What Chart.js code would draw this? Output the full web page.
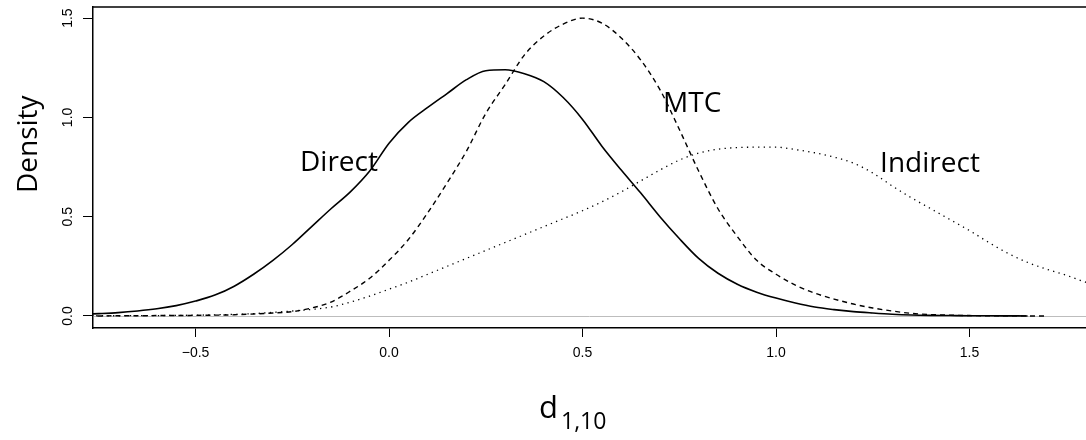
<!DOCTYPE html>
<html>
<head>
<meta charset="utf-8">
<script src="https://cdn.jsdelivr.net/npm/chart.js@4.4.1/dist/chart.umd.min.js"></script>
<style>
html,body{margin:0;padding:0;background:#fff;}
#wrap{width:1086px;height:440px;}
</style>
</head>
<body>
<div id="wrap"><canvas id="chart" width="1086" height="440"></canvas></div>
<script>
// Posterior densities of d_{1,10}: Direct / MTC / Indirect
const xs = [-0.80,-0.75,-0.70,-0.65,-0.60,-0.55,-0.50,-0.45,-0.40,-0.35,-0.30,-0.25,-0.20,-0.15,-0.10,-0.05,
  0.00,0.05,0.10,0.15,0.20,0.25,0.30,0.35,0.40,0.45,0.50,0.55,0.60,0.65,0.70,0.75,0.80,0.85,0.90,0.95,
  1.00,1.05,1.10,1.15,1.20,1.25,1.30,1.35,1.40,1.45,1.50,1.55,1.60,1.65,1.70,1.75,1.80,1.85];

const yDirect = [0.008,0.012,0.017,0.025,0.036,0.052,0.075,0.105,0.15,0.21,0.28,0.36,0.45,0.54,0.625,0.73,
  0.87,0.975,1.05,1.12,1.19,1.235,1.24,1.22,1.18,1.10,0.99,0.855,0.735,0.62,0.50,0.39,0.29,0.215,0.16,0.12,
  0.09,0.065,0.045,0.032,0.022,0.015,0.009,0.005,0.003,0.002,0.001,0.001,0.0005,0.0,null,null,null,null];

const yMTC = [0,0,0.001,0.001,0.002,0.002,0.003,0.004,0.006,0.01,0.015,0.022,0.04,0.07,0.125,0.19,
  0.28,0.385,0.52,0.67,0.83,1.02,1.165,1.315,1.41,1.47,1.50,1.475,1.40,1.29,1.14,0.94,0.73,0.54,0.40,0.28,
  0.21,0.155,0.115,0.085,0.06,0.04,0.025,0.013,0.007,0.004,0.002,0.001,0.0005,0.0002,0.0,null,null,null];

const yIndirect = [0.0,0.001,0.001,0.002,0.002,0.003,0.004,0.006,0.008,0.012,0.018,0.025,0.033,0.045,0.07,0.10,
  0.135,0.17,0.21,0.25,0.29,0.33,0.37,0.41,0.45,0.49,0.53,0.575,0.625,0.68,0.735,0.785,0.82,0.84,0.848,0.85,
  0.85,0.838,0.822,0.80,0.77,0.72,0.655,0.595,0.54,0.485,0.43,0.37,0.315,0.27,0.235,0.205,0.17,0.145];

const xTicks = [-0.5, 0.0, 0.5, 1.0, 1.5];
const yTicks = [0.0, 0.5, 1.0, 1.5];
const xMin = -0.765, xMax = 1.801;
const yMin = -0.0606, yMax = 1.556;

// curve labels, in data coordinates (left edge, baseline)
const labelText = ['Direct', 'MTC', 'Indirect'];
const labelX = [-0.23, 0.708, 1.269];
const labelY = [0.732, 1.025, 0.727];

const toPoints = ys => xs.map((x,i) => ({x: x, y: ys[i]}));
const fmtTick = v => v.toFixed(1).replace('-', '\u2212');

const tickFont = {family: '"Liberation Sans", Arial, Helvetica, sans-serif', size: 14};
const textFont = '"Open Sans", "Noto Sans", sans-serif';

// grey zero line + top border of the box
const framePlugin = {
  id: 'frame',
  beforeDatasetsDraw(chart){
    const {ctx, chartArea, scales} = chart;
    const y0 = Math.round(scales.y.getPixelForValue(0)) + 0.5;
    ctx.save();
    ctx.strokeStyle = '#bdbdbd';
    ctx.lineWidth = 1;
    ctx.beginPath();
    ctx.moveTo(chartArea.left, y0);
    ctx.lineTo(chartArea.right, y0);
    ctx.stroke();
    ctx.strokeStyle = '#000';
    ctx.lineWidth = 1.5;
    ctx.beginPath();
    ctx.moveTo(chartArea.left, chartArea.top);
    ctx.lineTo(chartArea.right, chartArea.top);
    ctx.stroke();
    ctx.restore();
  }
};

// curve labels and axis titles
const textPlugin = {
  id: 'texts',
  afterDraw(chart){
    const {ctx, scales} = chart;
    ctx.save();
    ctx.fillStyle = '#000';
    ctx.textAlign = 'left';
    ctx.textBaseline = 'alphabetic';
    ctx.font = '28px ' + textFont;
    labelText.forEach((t,i) => {
      ctx.fillText(t, scales.x.getPixelForValue(labelX[i]), scales.y.getPixelForValue(labelY[i]));
    });
    // y title
    ctx.save();
    ctx.translate(37, 193);
    ctx.rotate(-Math.PI/2);
    ctx.fillText('Density', 0, 0);
    ctx.restore();
    // x title d_{1,10}
    ctx.font = '31px ' + textFont;
    ctx.fillText('d', 539, 418);
    ctx.font = '23px ' + textFont;
    ctx.fillText('1,10', 561, 429);
    ctx.restore();
  }
};

const ctx = document.getElementById('chart').getContext('2d');
new Chart(ctx, {
  type: 'line',
  data: {
    datasets: [
      {label: 'Direct', data: toPoints(yDirect), borderColor: '#000', borderWidth: 1.6,
       pointRadius: 0, fill: false, cubicInterpolationMode: 'monotone'},
      {label: 'MTC', data: toPoints(yMTC), borderColor: '#000', borderWidth: 1.4, borderDash: [5,4],
       pointRadius: 0, fill: false, cubicInterpolationMode: 'monotone'},
      {label: 'Indirect', data: toPoints(yIndirect), borderColor: '#000', borderWidth: 1.3, borderDash: [1.3,4.3],
       pointRadius: 0, fill: false, cubicInterpolationMode: 'monotone'}
    ]
  },
  options: {
    responsive: false,
    animation: false,
    layout: {padding: {top: 7, left: 0, right: 0, bottom: 0}},
    plugins: {legend: {display: false}, tooltip: {enabled: false}},
    scales: {
      x: {
        type: 'linear', position: 'bottom', min: xMin, max: xMax,
        afterBuildTicks: s => { s.ticks = xTicks.map(v => ({value: v})); },
        afterFit: s => { s.height = 112; s.paddingLeft = 0; s.paddingRight = 0; },
        grid: {drawOnChartArea: false, drawTicks: true, tickLength: 9, tickColor: '#000', tickWidth: 1},
        border: {display: true, color: '#000', width: 1.5},
        ticks: {color: '#000', font: tickFont, padding: 8, minRotation: 0, maxRotation: 0,
                callback: v => fmtTick(v)}
      },
      y: {
        type: 'linear', position: 'left', min: yMin, max: yMax,
        afterBuildTicks: s => { s.ticks = yTicks.map(v => ({value: v})); },
        afterFit: s => { s.width = 93; s.paddingTop = 0; s.paddingBottom = 0; },
        grid: {drawOnChartArea: false, drawTicks: true, tickLength: 10, tickColor: '#000', tickWidth: 1},
        border: {display: true, color: '#000', width: 1.5},
        ticks: {color: '#000', font: tickFont, padding: 5, minRotation: 90, maxRotation: 90,
                crossAlign: 'center', callback: v => fmtTick(v)}
      }
    }
  },
  plugins: [framePlugin, textPlugin]
});
</script>
</body>
</html>
